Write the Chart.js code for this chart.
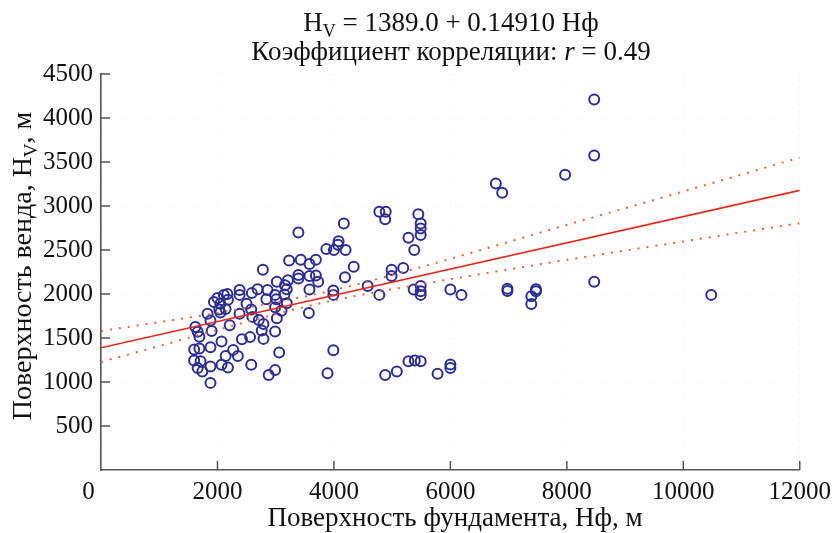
<!DOCTYPE html>
<html><head><meta charset="utf-8">
<script src="https://cdn.jsdelivr.net/npm/chart.js@4/dist/chart.umd.min.js"></script>
<style>html,body{margin:0;padding:0;background:#fff}#wrap{width:838px;height:533px;position:relative}</style>
</head><body><div id="wrap"><canvas id="c" width="838" height="533"></canvas></div>
<script>
// Scatter data: foundation surface (x) vs Vendian surface (y)
const foundX = [1620,1660,1690,1600,1690,1600,1710,1660,1740,1880,1880,1880,1900,1880,1830,1940,2000,2050,2110,2070,2070,2140,2180,2030,2140,2050,2170,2180,2210,
  2270,2350,2380,2380,2380,2420,2500,2560,2580,2600,2580,2590,2690,2710,2790,2760,2790,2780,2840,2860,2880,2990,2990,2990,3020,3010,3020,2990,3060,
  3100,3160,3190,3190,3210,3230,3390,3390,3390,3430,3580,3690,3580,3690,3730,3580,3570,3870,4000,3990,3990,3990,3890,4080,4070,4170,4200,4190,4340,3150,
  4580,4780,4780,4890,4880,5450,5490,5490,5490,5280,5380,5190,4990,4990,5370,5490,5490,5490,5280,5390,5490,5080,4880,5780,6000,6000,6000,6190,
  6780,6890,6980,6980,7470,7470,7390,7390,7970,8470,8470,8470,10480];
const vendY = [1625,1570,1515,1370,1380,1245,1235,1160,1120,1175,990,1395,1580,1700,1775,1910,1955,1890,1990,1460,1195,1295,1165,1825,1830,1790,2000,1935,1645,
  1365,1295,2045,1990,1775,1485,1890,1510,1825,1740,1195,2010,2055,1705,1660,1585,1490,2275,1940,2045,1080,1135,1575,1990,1725,1940,2140,1850,1335,
  1810,2100,2055,1895,2155,2380,2700,2215,2175,2390,2340,2390,2205,2210,2140,2050,1785,2510,2500,2040,1990,1360,1100,2600,2560,2800,2500,2190,2310,1995,
  2090,1990,2935,2935,2850,2905,2800,2745,2670,2640,2500,2295,2275,2205,2050,2090,2030,1990,1235,1245,1235,1120,1080,1095,1200,1160,2050,1990,
  3255,3150,2060,2035,2055,2030,1975,1885,3355,4210,3575,2140,1990];

// Regression line Hv = 1389.0 + 0.14910 Hф
const regX = [0, 12000];
const regY = [1389.0, 3178.2];

// Confidence band (dotted)
const bandX = [0, 1000, 2000, 3000, 4000, 5000, 6000, 8000, 10000, 12000];
const bandUpper = [1580, 1680, 1785, 1905, 2045, 2215, 2400, 2785, 3165, 3550];
const bandLower = [1228, 1408, 1592, 1771, 1928, 2054, 2168, 2388, 2597, 2805];

const xTicks = [0, 2000, 4000, 6000, 8000, 10000, 12000];
const yTicks = [500, 1000, 1500, 2000, 2500, 3000, 3500, 4000, 4500];

const titleLine1 = ['H', 'V', ' = 1389.0 + 0.14910 Нф'];
const titleLine2 = ['Коэффициент корреляции: ', 'r', ' = 0.49'];
const xTitle = 'Поверхность фундамента, Нф, м';
const yTitle = ['Поверхность венда, H', 'V', ', м'];

const FF = '"Liberation Serif", "DejaVu Serif", serif';
const pts = (xs, ys) => xs.map((v, i) => ({x: v, y: ys[i]}));

const inwardTicks = {
  id: 'inwardTicks',
  beforeDatasetsDraw(chart) {
    const {ctx, chartArea: a, scales: {x, y}} = chart;
    ctx.save();
    ctx.strokeStyle = '#555';
    ctx.lineWidth = 1.5;
    ctx.beginPath();
    yTicks.forEach(v => { const py = y.getPixelForValue(v); ctx.moveTo(a.left, py); ctx.lineTo(a.left + 9, py); });
    xTicks.forEach(v => { if (v === 0) return; const px = x.getPixelForValue(v); ctx.moveTo(px, a.bottom); ctx.lineTo(px, a.bottom - 9); });
    ctx.stroke();
    ctx.restore();
  }
};

function drawRuns(ctx, runs, cx, baseY) {
  let total = 0;
  runs.forEach(r => { ctx.font = r.font; r.w = ctx.measureText(r.t).width; total += r.w; });
  let xx = cx - total / 2;
  runs.forEach(r => { ctx.font = r.font; ctx.fillText(r.t, xx, baseY + (r.dy || 0)); xx += r.w; });
}

const texts = {
  id: 'texts',
  afterDraw(chart) {
    const {ctx} = chart;
    ctx.save();
    ctx.fillStyle = '#111';
    ctx.textBaseline = 'alphabetic';
    ctx.textAlign = 'left';
    const cx = 451;
    const f = '27px ' + FF, fs = '18px ' + FF, fi = 'italic 27px ' + FF;
    const fy = '28px ' + FF, fys = '19px ' + FF;
    drawRuns(ctx, [{t: titleLine1[0], font: f}, {t: titleLine1[1], font: fs, dy: 6}, {t: titleLine1[2], font: f}], cx, 31);
    drawRuns(ctx, [{t: titleLine2[0], font: f}, {t: titleLine2[1], font: fi}, {t: titleLine2[2], font: f}], cx, 60);
    drawRuns(ctx, [{t: xTitle, font: f}], 455, 526);
    ctx.translate(31, 266);
    ctx.rotate(-Math.PI / 2);
    drawRuns(ctx, [{t: yTitle[0], font: fy}, {t: yTitle[1], font: fys, dy: 6}, {t: yTitle[2], font: fy}], 0, 0);
    ctx.restore();
  }
};

new Chart(document.getElementById('c'), {
  data: {
    datasets: [
      {type: 'line', data: pts(regX, regY), borderColor: '#e8281e', borderWidth: 1.7, pointRadius: 0, order: 0},
      {type: 'line', data: pts(bandX, bandUpper), borderColor: '#f0603a', borderWidth: 2, borderDash: [2, 7], pointRadius: 0, cubicInterpolationMode: 'monotone', order: 0},
      {type: 'line', data: pts(bandX, bandLower), borderColor: '#f0603a', borderWidth: 2, borderDash: [2, 7], pointRadius: 0, cubicInterpolationMode: 'monotone', order: 0},
      {type: 'scatter', data: pts(foundX, vendY), pointStyle: 'circle', pointRadius: 5, borderColor: '#2b2f93', borderWidth: 2, backgroundColor: 'rgba(0,0,0,0)', order: 1}
    ]
  },
  options: {
    responsive: false,
    animation: false,
    devicePixelRatio: 1,
    layout: {padding: {top: 74, right: 32, left: 0, bottom: 0}},
    plugins: {legend: {display: false}, tooltip: {enabled: false}},
    scales: {
      x: {
        type: 'linear', min: 0, max: 12000,
        afterBuildTicks: s => { s.ticks = xTicks.map(v => ({value: v})); },
        afterFit: s => { s.height = 63; },
        ticks: {font: {family: FF, size: 25}, color: '#111', padding: 7, maxRotation: 0, autoSkip: false,
          callback: v => v === 0 ? '0\u2002\u2002' : String(v)},
        grid: {drawTicks: false, color: 'rgba(190,215,225,0.35)', lineWidth: 1},
        border: {display: true, color: '#555', width: 1.6, dash: [1, 5]}
      },
      y: {
        type: 'linear', min: 0, max: 4500,
        afterBuildTicks: s => { s.ticks = yTicks.map(v => ({value: v})); },
        afterFit: s => { s.width = 101; },
        ticks: {font: {family: FF, size: 25}, color: '#111', padding: 8, autoSkip: false,
          callback: v => String(v)},
        grid: {drawTicks: false, color: 'rgba(190,215,225,0.35)', lineWidth: 1},
        border: {display: true, color: '#555', width: 1.6, dash: [1, 5]}
      }
    }
  },
  plugins: [inwardTicks, texts]
});
</script></body></html>
